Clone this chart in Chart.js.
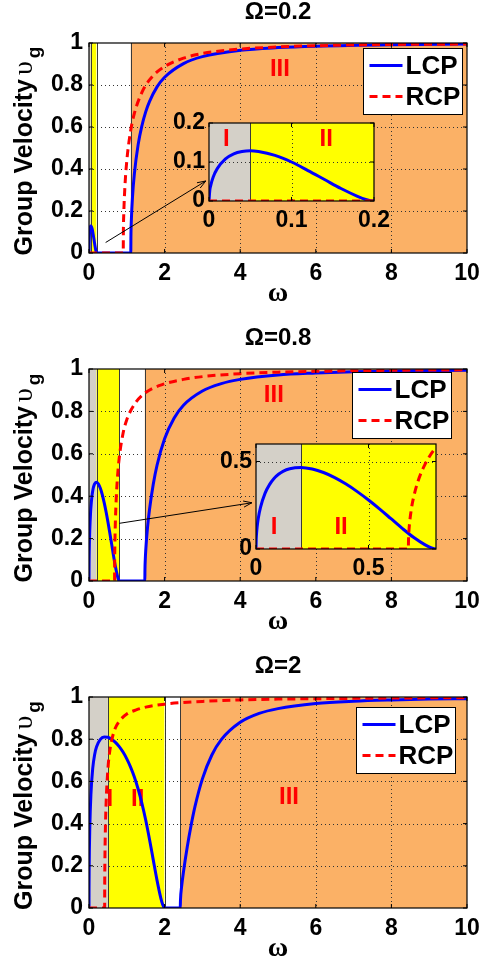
<!DOCTYPE html>
<html lang="en">
<head>
<meta charset="UTF-8">
<title>Group velocity of LCP and RCP waves</title>
<style>
    * { margin: 0; padding: 0; box-sizing: border-box; }
    body { background: #fff; width: 480px; height: 965px; position: relative; overflow: hidden; }
    canvas { position: absolute; }
</style>
</head>
<body>
<canvas id="panel1" width="480" height="320" style="left:0;top:0"></canvas>
<canvas id="panel2" width="480" height="320" style="left:0;top:320px"></canvas>
<canvas id="panel3" width="480" height="325" style="left:0;top:640px"></canvas>
<canvas id="inset1" width="236" height="130" style="left:160px;top:105px"></canvas>
<canvas id="inset2" width="250" height="156" style="left:205px;top:426px"></canvas>

<script src="https://cdn.jsdelivr.net/npm/chart.js"></script>
<script>
// cyclotron frequency of each panel
const cyclotron = [0.2, 0.8, 2];
const seriesNames = ['LCP', 'RCP'];
const regionNames = ['I', 'II', 'III'];

// region edges along omega: grey | yellow | white (gap) | orange
const bounds1 = [0, 0.05, 0.2, 1.105, 10];
const bounds2 = [0, 0.2, 0.8, 1.477, 10];
const bounds3 = [0, 0.5, 2, 2.414, 10];

// Omega = 0.2
const omegaL1 = [0, 0.001, 0.002, 0.005, 0.01, 0.02, 0.03, 0.04, 0.05, 0.06, 0.08, 0.1, 0.12, 0.14, 0.16, 0.18, 0.19, 0.2,
    1.105, 1.11, 1.12, 1.15, 1.2, 1.3, 1.4, 1.5, 1.6, 1.8, 2, 2.5, 3, 4, 5, 6, 8, 10];
const vgL1 = [0, 0.028, 0.039, 0.061, 0.083, 0.108, 0.121, 0.127, 0.129, 0.127, 0.117, 0.100, 0.078, 0.055, 0.032, 0.012, 0.004, 0,
    0, 0.090, 0.155, 0.265, 0.377, 0.516, 0.606, 0.672, 0.721, 0.791, 0.837, 0.902, 0.935, 0.965, 0.978, 0.985, 0.992, 0.995];
const omegaR1 = [0, 0.905, 0.91, 0.92, 0.95, 1.0, 1.1, 1.2, 1.4, 1.6, 1.8, 2, 2.5, 3, 4, 5, 6, 8, 10];
const vgR1 = [0, 0, 0.110, 0.188, 0.316, 0.439, 0.580, 0.665, 0.765, 0.824, 0.862, 0.888, 0.928, 0.950, 0.971, 0.981, 0.987, 0.993, 0.995];

// Omega = 0.8
const omegaL2 = [0, 0.001, 0.002, 0.005, 0.01, 0.02, 0.04, 0.06, 0.08, 0.1, 0.12, 0.15, 0.2, 0.25, 0.3, 0.35, 0.4, 0.45, 0.5, 0.55,
    0.6, 0.65, 0.7, 0.75, 0.78, 0.8,
    1.477, 1.48, 1.49, 1.5, 1.55, 1.6, 1.7, 1.8, 2, 2.25, 2.5, 3, 3.5, 4, 5, 6, 7, 8, 10];
const vgL2 = [0, 0.056, 0.080, 0.125, 0.174, 0.238, 0.318, 0.368, 0.403, 0.427, 0.444, 0.459, 0.466, 0.457, 0.437, 0.408, 0.371, 0.328, 0.280, 0.228,
    0.173, 0.118, 0.067, 0.025, 0.006, 0,
    0, 0.050, 0.106, 0.141, 0.256, 0.336, 0.456, 0.546, 0.671, 0.768, 0.829, 0.896, 0.931, 0.951, 0.972, 0.981, 0.987, 0.990, 0.994];
const omegaR2 = [0, 0.677, 0.678, 0.68, 0.69, 0.7, 0.72, 0.75, 0.8, 0.9, 1.0, 1.2, 1.5, 2, 2.5, 3, 4, 5, 6, 8, 10];
const vgR2 = [0, 0, 0.063, 0.109, 0.224, 0.293, 0.387, 0.481, 0.581, 0.696, 0.761, 0.833, 0.889, 0.930, 0.951, 0.964, 0.978, 0.985, 0.989, 0.994, 0.996];

// Omega = 2
const omegaL3 = [0, 0.001, 0.005, 0.01, 0.02, 0.05, 0.1, 0.15, 0.2, 0.3, 0.4, 0.5, 0.6, 0.7, 0.8, 0.9, 1.0, 1.1, 1.2, 1.3, 1.4, 1.5,
    1.6, 1.7, 1.8, 1.9, 1.95, 2,
    2.414, 2.42, 2.45, 2.5, 2.6, 2.7, 2.8, 3, 3.25, 3.5, 4, 4.5, 5, 6, 7, 8, 9, 10];
const vgL3 = [0, 0.089, 0.196, 0.273, 0.373, 0.536, 0.664, 0.728, 0.764, 0.799, 0.810, 0.809, 0.800, 0.785, 0.765, 0.739, 0.707, 0.668, 0.621, 0.564, 0.496, 0.417,
    0.326, 0.228, 0.131, 0.047, 0.016, 0,
    0, 0.038, 0.101, 0.172, 0.290, 0.391, 0.478, 0.612, 0.725, 0.798, 0.880, 0.922, 0.945, 0.969, 0.980, 0.986, 0.990, 0.992];
const omegaR3 = [0, 0.414, 0.415, 0.42, 0.43, 0.45, 0.5, 0.55, 0.6, 0.7, 0.8, 1.0, 1.25, 1.5, 2, 2.5, 3, 4, 5, 6, 8, 10];
const vgR3 = [0, 0, 0.080, 0.214, 0.342, 0.484, 0.658, 0.744, 0.795, 0.854, 0.885, 0.919, 0.939, 0.952, 0.966, 0.974, 0.979, 0.986, 0.990, 0.992, 0.995, 0.997];

const sansFont = '"Liberation Sans", Arial, Helvetica, sans-serif';
const serifFont = '"Liberation Serif", "Times New Roman", serif';
const regionFill = ['#D4D0C8', '#FFFF00', '#FFFFFF', '#FBB166'];

function points(xs, ys) {
    return xs.map((x, i) => ({ x: x, y: ys[i] }));
}

function makeDatasets(wl, vl, wr, vr) {
    return [
        { label: seriesNames[0], data: points(wl, vl), borderColor: '#0000FF', borderWidth: 3,
          pointRadius: 0, cubicInterpolationMode: 'monotone', order: 1 },
        { label: seriesNames[1], data: points(wr, vr), borderColor: '#FF0000', borderWidth: 3,
          borderDash: [8, 5], pointRadius: 0, cubicInterpolationMode: 'monotone', order: 0 }
    ];
}

function drawRegions(chart, bounds) {
    const { ctx, chartArea: a, scales: { x } } = chart;
    ctx.save();
    ctx.beginPath();
    ctx.rect(a.left, a.top, a.width, a.height);
    ctx.clip();
    for (let i = 0; i < bounds.length - 1; i++) {
        const x0 = x.getPixelForValue(bounds[i]);
        const x1 = x.getPixelForValue(bounds[i + 1]);
        ctx.fillStyle = regionFill[i];
        ctx.fillRect(x0, a.top, x1 - x0, a.height);
    }
    ctx.strokeStyle = '#3a3a3a';
    ctx.lineWidth = 1;
    for (let i = 1; i < bounds.length - 1; i++) {
        const px = Math.round(x.getPixelForValue(bounds[i])) + 0.5;
        ctx.beginPath();
        ctx.moveTo(px, a.top);
        ctx.lineTo(px, a.bottom);
        ctx.stroke();
    }
    ctx.restore();
}

function drawGrid(chart) {
    const { ctx, chartArea: a, scales: { x, y } } = chart;
    ctx.save();
    ctx.setLineDash([1, 3]);
    ctx.strokeStyle = '#333';
    ctx.lineWidth = 1;
    x.ticks.forEach(t => {
        if (t.value <= x.min || t.value >= x.max) return;
        const px = Math.round(x.getPixelForValue(t.value)) + 0.5;
        ctx.beginPath(); ctx.moveTo(px, a.top); ctx.lineTo(px, a.bottom); ctx.stroke();
    });
    y.ticks.forEach(t => {
        if (t.value <= y.min || t.value >= y.max) return;
        const py = Math.round(y.getPixelForValue(t.value)) + 0.5;
        ctx.beginPath(); ctx.moveTo(a.left, py); ctx.lineTo(a.right, py); ctx.stroke();
    });
    ctx.restore();
}

function drawFrame(chart) {
    const { ctx, chartArea: a, scales: { x, y } } = chart;
    const tl = 4;
    ctx.save();
    ctx.strokeStyle = '#000';
    ctx.lineWidth = 1.2;
    ctx.strokeRect(a.left, a.top, a.width, a.height);
    ctx.lineWidth = 1;
    x.ticks.forEach(t => {
        const px = x.getPixelForValue(t.value);
        ctx.beginPath();
        ctx.moveTo(px, a.bottom); ctx.lineTo(px, a.bottom - tl);
        ctx.moveTo(px, a.top); ctx.lineTo(px, a.top + tl);
        ctx.stroke();
    });
    y.ticks.forEach(t => {
        const py = y.getPixelForValue(t.value);
        ctx.beginPath();
        ctx.moveTo(a.left, py); ctx.lineTo(a.left + tl, py);
        ctx.moveTo(a.right, py); ctx.lineTo(a.right - tl, py);
        ctx.stroke();
    });
    ctx.restore();
}

function drawRegionLabels(chart, labels) {
    const { ctx, scales: { x, y } } = chart;
    ctx.save();
    ctx.fillStyle = '#FF0000';
    ctx.font = 'bold 24px ' + sansFont;
    ctx.textAlign = 'center';
    ctx.textBaseline = 'middle';
    labels.forEach(l => ctx.fillText(l.text, x.getPixelForValue(l.x), y.getPixelForValue(l.y)));
    ctx.restore();
}

function drawLegend(chart, pos) {
    const { ctx, chartArea: a } = chart;
    const w = 99, h = 66;
    const left = Math.round(a.right - pos.right - w) + 0.5;
    const top = Math.round(a.top + pos.top) + 0.5;
    ctx.save();
    ctx.fillStyle = '#fff';
    ctx.fillRect(left, top, w, h);
    ctx.strokeStyle = '#000';
    ctx.lineWidth = 1;
    ctx.strokeRect(left, top, w, h);
    chart.data.datasets.forEach((ds, i) => {
        const cy = top + 17 + i * 31;
        ctx.setLineDash(ds.borderDash || []);
        ctx.strokeStyle = ds.borderColor;
        ctx.lineWidth = ds.borderWidth;
        ctx.beginPath();
        ctx.moveTo(left + 6, cy);
        ctx.lineTo(left + 39, cy);
        ctx.stroke();
        ctx.setLineDash([]);
        ctx.fillStyle = '#000';
        ctx.font = 'bold 26px ' + sansFont;
        ctx.textBaseline = 'middle';
        ctx.fillText(ds.label, left + 42, cy + 1);
    });
    ctx.restore();
}

function drawArrow(chart, arrow) {
    const { ctx, scales: { x, y } } = chart;
    const x0 = x.getPixelForValue(arrow.from[0]), y0 = y.getPixelForValue(arrow.from[1]);
    const x1 = x.getPixelForValue(arrow.to[0]), y1 = y.getPixelForValue(arrow.to[1]);
    const ang = Math.atan2(y1 - y0, x1 - x0);
    ctx.save();
    ctx.strokeStyle = '#000';
    ctx.lineWidth = 1;
    ctx.beginPath();
    ctx.moveTo(x0, y0);
    ctx.lineTo(x1, y1);
    ctx.moveTo(x1 - 9 * Math.cos(ang - 0.35), y1 - 9 * Math.sin(ang - 0.35));
    ctx.lineTo(x1, y1);
    ctx.lineTo(x1 - 9 * Math.cos(ang + 0.35), y1 - 9 * Math.sin(ang + 0.35));
    ctx.stroke();
    ctx.restore();
}

function drawAxisText(chart, title) {
    const { ctx, chartArea: a } = chart;
    const cx = (a.left + a.right) / 2;
    ctx.save();
    ctx.fillStyle = '#000';
    ctx.textAlign = 'center';
    ctx.textBaseline = 'middle';
    ctx.font = 'bold 24px ' + sansFont;
    ctx.fillText(title, cx, a.top - 31);
    ctx.font = 'bold 28px ' + serifFont;
    ctx.fillText('\u03C9', cx, a.bottom + 41);

    // rotated y label with subscript
    const main = 'Group Velocity ';
    const fMain = 'bold 25px ' + sansFont, fSym = '28px ' + serifFont, fSub = 'bold 19px ' + sansFont;
    ctx.font = fMain; const w1 = ctx.measureText(main).width;
    ctx.font = fSym; const w2 = ctx.measureText('\u03C5').width;
    ctx.font = fSub; const w3 = ctx.measureText('g').width;
    const total = w1 + w2 + w3;
    ctx.translate(32, (a.top + a.bottom) / 2 + total / 2 + 3);
    ctx.rotate(-Math.PI / 2);
    ctx.textAlign = 'left';
    ctx.textBaseline = 'alphabetic';
    ctx.font = fMain; ctx.fillText(main, 0, 0);
    ctx.font = fSym; ctx.fillText('\u03C5', w1 - 3, 0);
    ctx.font = fSub; ctx.fillText('g', w1 + w2, 8);
    ctx.restore();
}

function tickFont() {
    return { family: sansFont, size: 23, weight: 'bold' };
}

function tickText(v) {
    return String(Number(v.toFixed(3)));
}

function panelPlugin(cfg) {
    return {
        id: 'panelDecor',
        beforeDatasetsDraw(chart) {
            drawRegions(chart, cfg.bounds);
            drawGrid(chart);
            drawRegionLabels(chart, cfg.labels);
        },
        afterDatasetsDraw(chart) {
            drawFrame(chart);
            if (cfg.legend) drawLegend(chart, cfg.legend);
            if (cfg.arrow) drawArrow(chart, cfg.arrow);
            if (cfg.title) drawAxisText(chart, cfg.title);
        }
    };
}

function buildChart(id, cfg) {
    return new Chart(document.getElementById(id), {
        type: 'line',
        data: { datasets: cfg.datasets },
        options: {
            responsive: false,
            animation: false,
            devicePixelRatio: 1,
            layout: { padding: { top: cfg.padTop, right: cfg.padRight, left: 0, bottom: 0 } },
            plugins: { legend: { display: false }, tooltip: { enabled: false } },
            scales: {
                x: {
                    type: 'linear', min: cfg.xMax[0], max: cfg.xMax[1],
                    ticks: { stepSize: cfg.xStep, padding: cfg.xPad, font: tickFont(), color: '#000',
                             maxRotation: 0, autoSkip: false, includeBounds: false, callback: tickText },
                    grid: { display: false, drawTicks: false },
                    border: { display: false },
                    afterFit: s => { s.height = cfg.xHeight; s.paddingLeft = 0; s.paddingRight = 0; }
                },
                y: {
                    type: 'linear', min: 0, max: cfg.yMax,
                    ticks: { stepSize: cfg.yStep, padding: cfg.yPad, font: tickFont(), color: '#000',
                             autoSkip: false, includeBounds: false, callback: tickText },
                    grid: { display: false, drawTicks: false },
                    border: { display: false },
                    afterFit: s => { s.width = cfg.yWidth; s.paddingTop = 0; s.paddingBottom = 0; }
                }
            }
        },
        plugins: [panelPlugin(cfg)]
    });
}

const panels = [
    { id: 'panel1', wl: omegaL1, vl: vgL1, wr: omegaR1, vr: vgR1, bounds: bounds1, padTop: 43, xHeight: 67,
      legend: { right: 5, top: 5 }, arrow: { from: [0.44, 0.05], to: [3.09, 0.343] },
      labels: [{ text: regionNames[2], x: 5.05, y: 0.875 }] },
    { id: 'panel2', wl: omegaL2, vl: vgL2, wr: omegaR2, vr: vgR2, bounds: bounds2, padTop: 49, xHeight: 59,
      legend: { right: 16, top: 3 }, arrow: { from: [0.8, 0.272], to: [4.31, 0.369] },
      labels: [{ text: regionNames[2], x: 4.89, y: 0.874 }] },
    { id: 'panel3', wl: omegaL3, vl: vgL3, wr: omegaR3, vr: vgR3, bounds: bounds3, padTop: 57, xHeight: 57,
      legend: { right: 12, top: 10 }, arrow: null,
      labels: [{ text: regionNames[0], x: 0.55, y: 0.517 }, { text: regionNames[1], x: 1.29, y: 0.517 },
               { text: regionNames[2], x: 5.29, y: 0.522 }] }
];

panels.forEach((p, i) => {
    buildChart(p.id, {
        datasets: makeDatasets(p.wl, p.vl, p.wr, p.vr),
        bounds: p.bounds, labels: p.labels, legend: p.legend, arrow: p.arrow,
        title: '\u03A9=' + cyclotron[i],
        padTop: p.padTop, padRight: 13, xHeight: p.xHeight, yWidth: 89,
        xMax: [0, 10], xStep: 2, xPad: 7, yMax: 1, yStep: 0.2, yPad: 6
    });
});

// zoomed views of the low-frequency branch
buildChart('inset1', {
    datasets: makeDatasets(omegaL1, vgL1, omegaR1, vgR1),
    bounds: bounds1,
    labels: [{ text: regionNames[0], x: 0.021, y: 0.159 }, { text: regionNames[1], x: 0.142, y: 0.159 }],
    padTop: 18, padRight: 22, xHeight: 34, yWidth: 49,
    xMax: [0, 0.2], xStep: 0.1, xPad: 6, yMax: 0.2, yStep: 0.1, yPad: 4
});
buildChart('inset2', {
    datasets: makeDatasets(omegaL2, vgL2, omegaR2, vgR2),
    bounds: bounds2,
    labels: [{ text: regionNames[0], x: 0.08, y: 0.126 }, { text: regionNames[1], x: 0.378, y: 0.126 }],
    padTop: 18, padRight: 19, xHeight: 33, yWidth: 51,
    xMax: [0, 0.8], xStep: 0.5, xPad: 6, yMax: 0.6, yStep: 0.5, yPad: 4
});
</script>
</body>
</html>
